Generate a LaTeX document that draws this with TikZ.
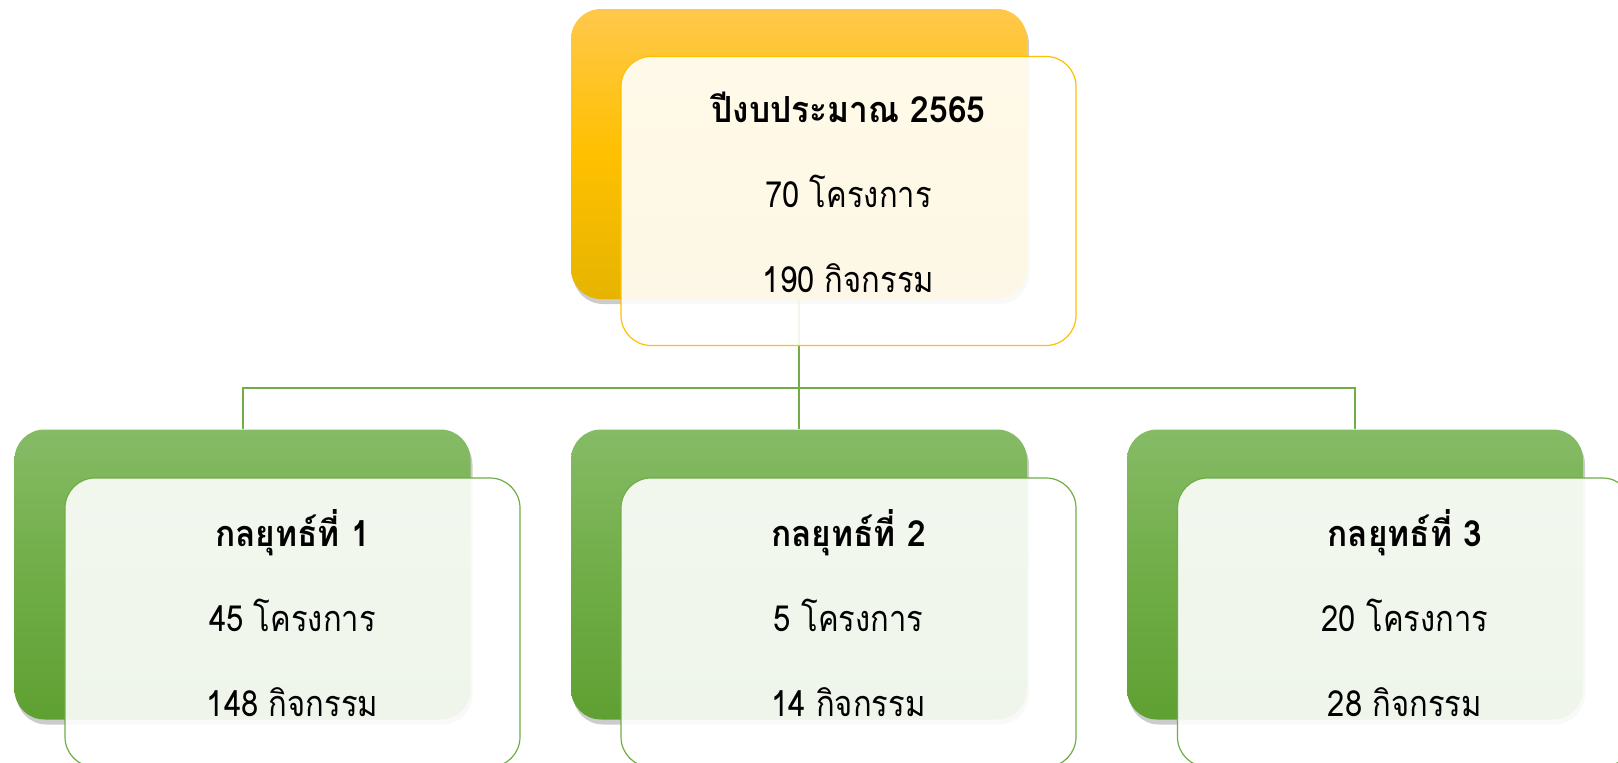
\documentclass[tikz,border=0pt]{standalone}
\usepackage{fontspec}
\setmainfont[Script=Thai, FakeStretch=0.86, BoldFeatures={FakeStretch=0.93}]{Loma}
\usetikzlibrary{shadows}
\definecolor{gold}{HTML}{FFC000}
\definecolor{goldtop}{HTML}{FFC84B}
\definecolor{goldbot}{HTML}{E6B400}
\definecolor{grn}{HTML}{70AD47}
\definecolor{grntop}{HTML}{86BB66}
\definecolor{grnbot}{HTML}{5FA032}
\begin{document}
\begin{tikzpicture}[x=1pt,y=1pt,
  backbox/.style={rounded corners=30pt, minimum width=456pt, minimum height=290pt, inner sep=0pt,
    drop shadow={opacity=0.4, shadow xshift=2pt, shadow yshift=-5pt}},
  goldback/.style={backbox, top color=goldtop, bottom color=goldbot, middle color=gold},
  grnback/.style={backbox, top color=grntop, bottom color=grnbot, middle color=grn},
  frontbox/.style={rounded corners=30pt, minimum width=455pt, minimum height=289pt, inner sep=0pt,
    fill=white, fill opacity=0.9, line width=1.2pt},
  goldfront/.style={frontbox, draw=gold},
  grnfront/.style={frontbox, draw=grn},
  txt/.style={align=center, inner sep=0pt, font=\fontsize{36}{85}\selectfont, yshift=9pt},
  link/.style={draw=grn, line width=2pt}
]
\useasboundingbox (0,0) rectangle (1618,-763);
% back boxes
\node[goldback] (top) at (799,-154) {};
\node[grnback] (b1) at (242.5,-574.5) {};
\node[grnback] (b2) at (799,-574.5) {};
\node[grnback] (b3) at (1355,-574.5) {};
% connectors
\path (top.south) ++(0,-89) coordinate (bus);
\draw[link] (top.south) -- (bus);
\foreach \b in {b1,b2,b3} \draw[link] (bus) -| (\b.north);
% front boxes
\node[goldfront] (topf) at (848.5,-201) {};
\node[grnfront] (f1) at (292.5,-622.5) {};
\node[grnfront] (f2) at (848.5,-622.5) {};
\node[grnfront] (f3) at (1405,-622.5) {};
% texts
\node[txt] (topt) at (topf.center) {{\bfseries ปีงบประมาณ 2565}\\70 โครงการ\\190 กิจกรรม};
\node[txt] (t1) at (f1.center) {{\bfseries กลยุทธ์ที่ 1}\\45 โครงการ\\148 กิจกรรม};
\node[txt] (t2) at (f2.center) {{\bfseries กลยุทธ์ที่ 2}\\5 โครงการ\\14 กิจกรรม};
\node[txt] (t3) at (f3.center) {{\bfseries กลยุทธ์ที่ 3}\\20 โครงการ\\28 กิจกรรม};
\end{tikzpicture}
\end{document}
